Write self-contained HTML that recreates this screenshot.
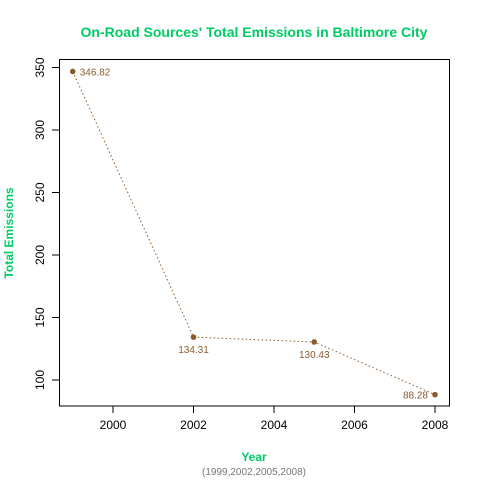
<!DOCTYPE html>
<html><head><meta charset="utf-8"><style>
body{margin:0;background:#fff}
svg{display:block;font-family:"Liberation Sans",Arial,sans-serif}
</style></head><body>
<svg id="chart" width="480" height="480">
<rect x="0" y="0" width="480" height="480" fill="#fff"/>
<text x="254" y="37" text-anchor="middle" font-size="14" font-weight="bold" fill="#00cc66">On-Road Sources' Total Emissions in Baltimore City</text>
<rect x="59.5" y="59.5" width="390" height="346.5" fill="none" stroke="#000"/>
<text x="254" y="461" text-anchor="middle" font-size="12" font-weight="bold" fill="#00cc66">Year</text>
<text x="254" y="475" text-anchor="middle" font-size="10" fill="#777">(1999,2002,2005,2008)</text>
<text transform="translate(13,233) rotate(-90)" text-anchor="middle" font-size="12" font-weight="bold" fill="#00cc66">Total Emissions</text>
<g id="axes"></g>
<g id="marks"></g>
</svg>
<script>
const years=[1999,2002,2005,2008];
const emissions=[346.82,134.31,130.43,88.28];
const labels=["346.82","134.31","130.43","88.28"];
const xTicks=[2000,2002,2004,2006,2008];
const yTicks=[100,150,200,250,300,350];
const NS="http://www.w3.org/2000/svg";
function xs(v){return 113+(v-2000)*40.25;}
function ys(v){return 67.5+(350-v)*1.25;}
function mk(t,a,p){const e=document.createElementNS(NS,t);for(const k in a)e.setAttribute(k,a[k]);p.appendChild(e);return e;}
const ax=document.getElementById('axes'),mg=document.getElementById('marks');
xTicks.forEach(t=>{const x=xs(t);
 const l=mk('line',{x1:x,x2:x,y1:406,y2:413,stroke:'#000'},ax);
 
 
 const tx=mk('text',{x:x,y:429,'text-anchor':'middle','font-size':12},ax);tx.textContent=t;
 
 
});
yTicks.forEach(t=>{const y=ys(t);
 const l=mk('line',{x1:52,x2:59,y1:y,y2:y,stroke:'#000'},ax);
 
 
 const tx=mk('text',{transform:`translate(44,${y}) rotate(-90)`,'text-anchor':'middle','font-size':12},ax);tx.textContent=t;
 
 
});
const pts=years.map((y,i)=>xs(y)+','+ys(emissions[i])).join(' ');
const pl=mk('polyline',{points:pts,fill:'none',stroke:'#8b5a2b','stroke-dasharray':'1.5,2.5'},mg);


years.forEach((yr,i)=>{const x=xs(yr),y=ys(emissions[i]);
 const c=mk('circle',{cx:x,cy:y,r:2.8,fill:'#8b5a2b'},mg);
 
 
 let a={x:x,y:y+16,'text-anchor':'middle'};
 if(i===0)a={x:x+7,y:y+4,'text-anchor':'start'};
 if(i===years.length-1)a={x:x-7,y:y+4,'text-anchor':'end'};
 a['font-size']=10;a.fill='#8b5a2b';
 const t=mk('text',a,mg);t.textContent=labels[i];
 
 
});
</script>
</body></html>
